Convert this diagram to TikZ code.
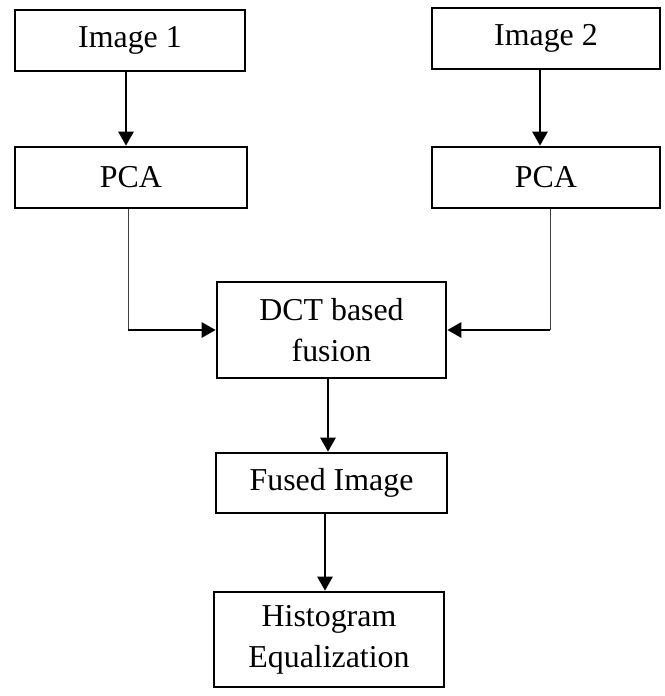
\documentclass[tikz,border=0pt]{standalone}
\usepackage{fontspec}
\setmainfont{Liberation Serif}
\usetikzlibrary{arrows.meta}
\begin{document}
\begin{tikzpicture}[x=1bp,y=-1bp]
    \tikzset{
    blk/.style={draw,line width=2.6bp,inner sep=0pt,align=center,font=\fontsize{32}{41}\selectfont},
    c1/.style={line width=1bp,black!75},
    c2/.style={line width=2.6bp,-{Triangle[length=14bp,width=15bp]}},
    }
    \useasboundingbox (0,0) rectangle (665,696);
    \node[blk,minimum width=230bp,minimum height=61bp] (im1) at (130,40.5) {Image 1};
    \node[blk,minimum width=228bp,minimum height=61bp] (im2) at (546,38.5) {Image 2};
    \node[blk,minimum width=232bp,minimum height=61bp] (pca1) at (131,177.5) {PCA};
    \node[blk,minimum width=228bp,minimum height=61bp] (pca2) at (546,177.5) {PCA};
    \node[blk,minimum width=229bp,minimum height=96bp] (dct) at (331.5,330) {DCT based\\fusion};
    \node[blk,minimum width=231bp,minimum height=60bp] (fus) at (331.5,483) {Fused Image};
    \node[blk,minimum width=230bp,minimum height=95bp] (hist) at (329,639.5) {Histogram\\Equalization};
    \coordinate (l1) at (pca1.south -| 128,0);
    \coordinate (l2) at (128,0 |- dct.west);
    \coordinate (r1) at (pca2.south -| 550,0);
    \coordinate (r2) at (550,0 |- dct.east);

    \draw[c2] (im1.south -| 126,0) -- (pca1.north -| 126,0);
    \draw[c2] (im2.south -| 540,0) -- (pca2.north -| 540,0);
    \draw[c1] (l1) -- (l2);
    \draw[c2] (l2) -- (dct.west);
    \draw[c1] (r1) -- (r2);
    \draw[c2] (r2) -- (dct.east);
    \draw[c2] (dct.south -| 328,0) -- (fus.north -| 328,0);
    \draw[c2] (fus.south -| 325,0) -- (hist.north -| 325,0);
\end{tikzpicture}
\end{document}
